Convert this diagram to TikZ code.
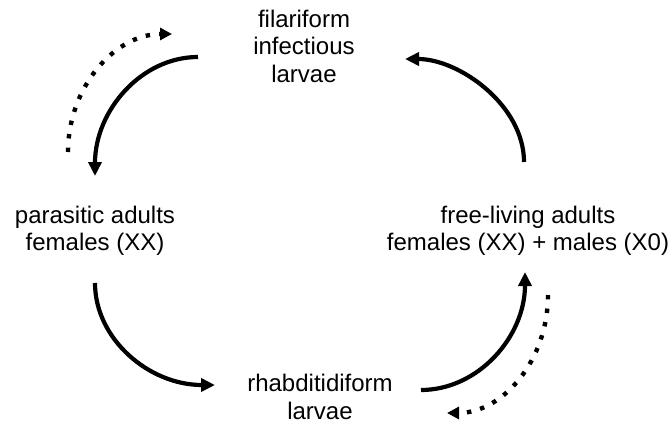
\documentclass[tikz,border=0pt]{standalone}
\usepackage{fontspec}
\setmainfont{Liberation Sans}
\usetikzlibrary{arrows.meta}
\begin{document}
\begin{tikzpicture}[x=1pt,y=-1pt,
  lbl/.style={font=\fontsize{24}{27.5}\selectfont, align=center, inner sep=0pt, anchor=north},
  cyc/.style={line width=4.2pt, -{Triangle[length=14pt,width=13pt]}},
  dotarrow/.style={line width=4.4pt, dash pattern=on 4.4pt off 9.2pt, -{Triangle[length=12pt,width=12pt]}}]
\useasboundingbox (0,0) rectangle (672,423);
\node[lbl] (fil) at (304,9.5) {filariform\\infectious\\larvae};
\node[lbl] (par) at (95,205.5) {parasitic adults\\females (XX)};
\node[lbl] (free) at (528,205.5) {free-living adults\\females (XX) + males (X0)};
\node[lbl] (rha) at (320,374) {rhabditidiform\\larvae};
\coordinate (a1s) at (198,57);
\coordinate (a1e) at (95,176);
\coordinate (a2s) at (524,162);
\coordinate (a2e) at (405,59);
\coordinate (a3s) at (95,283);
\coordinate (a3e) at (215,385);
\coordinate (a4s) at (421,390);
\coordinate (a4e) at (525,272);
\coordinate (d1s) at (68,152);
\coordinate (d1e) at (172,34);
\coordinate (d2s) at (548,295);
\coordinate (d2e) at (447,413);
\draw[cyc] (a1s) .. controls (141,57) and (95,111) .. (a1e);
\draw[cyc] (a2s) .. controls (524,105) and (459,59) .. (a2e);
\draw[cyc] (a3s) .. controls (95,339) and (149,385) .. (a3e);
\draw[cyc] (a4s) .. controls (478,390) and (525,337) .. (a4e);
\draw[dotarrow] (d1s) .. controls (68,87) and (115,34) .. (d1e);
\draw[dotarrow] (d2s) .. controls (548,360) and (503,413) .. (d2e);
\end{tikzpicture}
\end{document}
